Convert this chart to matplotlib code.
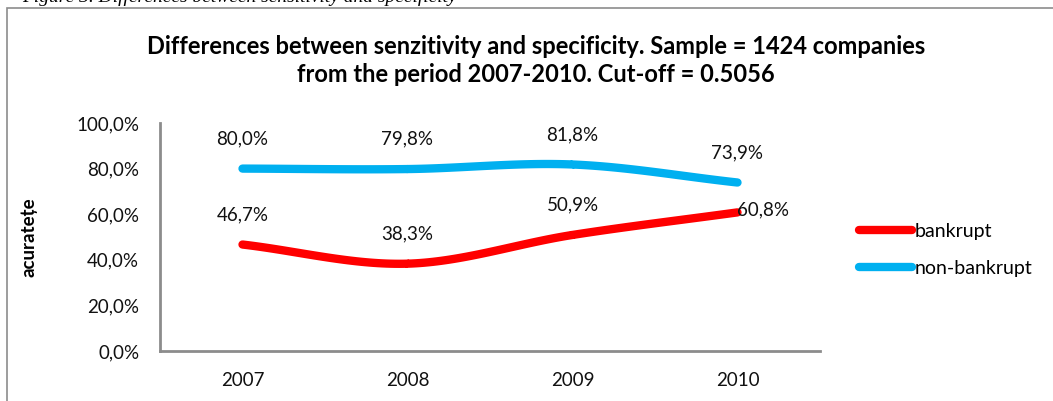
import numpy as np
import matplotlib.pyplot as plt
from matplotlib.patches import Rectangle

years = ["2007", "2008", "2009", "2010"]
bankrupt = [46.7, 38.3, 50.9, 60.8]
non_bankrupt = [80.0, 79.8, 81.8, 73.9]
y_ticks = [0, 20, 40, 60, 80, 100]

plt.rcParams['font.family'] = ['Lato', 'DejaVu Sans']
FS = 13.5


def smooth(xs, ys, n=40):
    # Catmull-Rom curve through the points, like a smoothed line chart
    xs = np.asarray(xs, float)
    ys = np.asarray(ys, float)
    px = np.concatenate([[2 * xs[0] - xs[1]], xs, [2 * xs[-1] - xs[-2]]])
    py = np.concatenate([[2 * ys[0] - ys[1]], ys, [2 * ys[-1] - ys[-2]]])
    outx, outy = [], []
    for i in range(1, len(px) - 2):
        t = np.linspace(0, 1, n)
        for arr, out in ((px, outx), (py, outy)):
            p0, p1, p2, p3 = arr[i - 1], arr[i], arr[i + 1], arr[i + 2]
            out.extend(0.5 * ((2 * p1) + (-p0 + p2) * t
                              + (2 * p0 - 5 * p1 + 4 * p2 - p3) * t ** 2
                              + (-p0 + 3 * p1 - 3 * p2 + p3) * t ** 3))
    return np.array(outx), np.array(outy)


def pct(v):
    return f"{v:.1f}%".replace(".", ",")


fig = plt.figure(figsize=(10.53, 4.01), dpi=100)
W, H = 1053, 401

# outer chart frame
fig.patches.append(Rectangle((7 / W, -0.1), 1.2, (H - 8) / H + 0.1,
                             transform=fig.transFigure, fill=False,
                             edgecolor="#8c8c8c", linewidth=1.2))

# caption above the chart, clipped by the top edge
fig.text(22 / W, 1 - 2 / H, "Figure 3. Differences between sensitivity and specificity",
         ha="left", va="baseline", fontsize=14, style="italic",
         family="Liberation Serif")

ax = fig.add_axes([160 / W, 1 - 351 / H, 660 / W, 228 / H])
x = np.arange(len(years))

bx, by = smooth(x, bankrupt)
nx, ny = smooth(x, non_bankrupt)
ax.plot(bx, by, color="#ff0000", linewidth=6, solid_capstyle="round",
        label="bankrupt")
ax.plot(nx, ny, color="#00b0f0", linewidth=6, solid_capstyle="round",
        label="non-bankrupt")

for i, v in enumerate(bankrupt):
    if i == len(years) - 1:
        ax.annotate(pct(v), (i, v), xytext=(0, 3), textcoords="offset pixels",
                    ha="left", va="center", fontsize=FS, color="#111111")
    else:
        ax.annotate(pct(v), (i, v), xytext=(0, 30), textcoords="offset pixels",
                    ha="center", va="center", fontsize=FS, color="#111111")
for i, v in enumerate(non_bankrupt):
    ax.annotate(pct(v), (i, v), xytext=(0, 30), textcoords="offset pixels",
                ha="center", va="center", fontsize=FS, color="#111111")

ax.set_xlim(-0.5, len(years) - 0.5)
ax.set_ylim(0, 100)
ax.set_xticks(x)
ax.set_xticklabels(years)
ax.set_yticks(y_ticks)
ax.set_yticklabels([pct(t) for t in y_ticks])
ax.tick_params(length=0, labelsize=FS, colors="#111111")
ax.tick_params(axis="y", pad=15)
ax.tick_params(axis="x", pad=15)
for s in ["top", "right"]:
    ax.spines[s].set_visible(False)
for s in ["left", "bottom"]:
    ax.spines[s].set_color("#8c8c8c")
    ax.spines[s].set_linewidth(2)
ax.set_ylabel("acuratețe", fontsize=FS, fontweight="bold", labelpad=28)
ax.patch.set_alpha(0)

fig.text(536 / W, 1 - 46 / H,
         "Differences between senzitivity and specificity. Sample = 1424 companies",
         ha="center", va="center", fontsize=17, fontweight="bold")
fig.text(536 / W, 1 - 75 / H, "from the period 2007-2010. Cut-off = 0.5056",
         ha="center", va="center", fontsize=17, fontweight="bold")

ax.legend(loc="center left", bbox_to_anchor=(859 / W, 1 - 250 / H),
          bbox_transform=fig.transFigure, frameon=False, fontsize=14,
          handlelength=2.7, handletextpad=0.15, labelspacing=1.05,
          borderaxespad=0, borderpad=0)

fig.savefig("out.png", dpi=100)
